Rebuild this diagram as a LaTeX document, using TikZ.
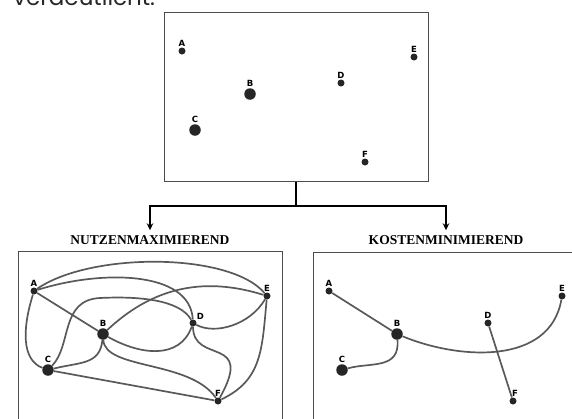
\documentclass[tikz,border=0pt]{standalone}
\usepackage{fontspec}
\setmainfont{Liberation Serif}
\newfontfamily\ortfont{DejaVu Sans}
\newfontfamily\kopffont{Poppins}
\usepackage{tikz}
\usetikzlibrary{arrows.meta,positioning}

\tikzset{
  ort/.style={circle, fill=black!85, inner sep=0pt, minimum size=7pt, label distance=1.5pt},
  zentrum/.style={ort, minimum size=11.5pt},
  weg/.style={draw=black!65, line width=1.7pt},
  feld/.style={draw=black!70, line width=1pt},
  pfeil/.style={draw=black, line width=1.2pt},
  titel/.style={font=\bfseries\fontsize{13.5}{14}\selectfont, inner sep=2pt},
  every label/.style={font=\ortfont\bfseries\fontsize{8.5}{9}\selectfont, inner sep=1pt}
}

\begin{document}
\begin{tikzpicture}[x=1pt, y=-1pt]
  \clip (0,0) rectangle (572,418);
  \node [anchor=base west, inner sep=0pt, text=black!85, font=\kopffont\fontsize{23}{24}\selectfont] (kopf) at (13,5) {verdeutlicht:};

  % Ausgangslage
  \node [feld, minimum width=264pt, minimum height=169pt, inner sep=0pt] (lage) at (296,96.5) {};
  \node [ort, label=above:A] (tA) at (182,51) {};
  \node [zentrum, label=above:B] (tB) at (250,94) {};
  \node [zentrum, label=above:C] (tC) at (195,130) {};
  \node [ort, label=above:D] (tD) at (341,83) {};
  \node [ort, label=above:E] (tE) at (414,57) {};
  \node [ort, label=above:F] (tF) at (365,162) {};

  % Verzweigung
  \coordinate (gabel) at (296,206);
  \node [titel] (nutzen) at (150,240) {NUTZENMAXIMIEREND};
  \node [titel] (kosten) at (446,240) {KOSTENMINIMIEREND};
  \draw [pfeil] (lage.south) -- (gabel);
  \draw [pfeil, -{Stealth[length=7pt,width=6.5pt]}, shorten >=3pt] (gabel) -| (nutzen);
  \draw [pfeil, -{Stealth[length=7pt,width=6.5pt]}, shorten >=3pt] (gabel) -| (kosten);

  % nutzenmaximierend
  \draw [feld] (18,251) rectangle (282,430);
  \node [ort, label=above:A] (lA) at (34,291) {};
  \node [zentrum, label=above:B] (lB) at (103,334) {};
  \node [zentrum, label=above:C] (lC) at (48,370) {};
  \node [ort, label=above right:D] (lD) at (193,323) {};
  \node [ort, label=above:E] (lE) at (267,296) {};
  \node [ort, label=above:F] (lF) at (218,401) {};
  \draw [weg] (lA) .. controls (90,252) and (230,252) .. (lE);
  \draw [weg] (lA) .. controls (100,270) and (190,270) .. (lD);
  \draw [weg] (lA) -- (lB);
  \draw [weg] (lA) .. controls (22,330) and (22,360) .. (lC);
  \draw [weg] (lC) .. controls (72,345) and (60,300) .. (100,298) .. controls (140,296) and (180,300) .. (lD);
  \draw [weg] (lB) .. controls (150,290) and (200,275) .. (lE);
  \draw [weg] (lD) .. controls (215,335) and (250,325) .. (lE);
  \draw [weg] (lB) .. controls (140,355) and (180,360) .. (lD);
  \draw [weg] (lB) .. controls (100,365) and (80,362) .. (lC);
  \draw [weg] (lB) .. controls (105,370) and (190,360) .. (lF);
  \draw [weg] (lC) -- (lF);
  \draw [weg] (lD) .. controls (193,365) and (255,335) .. (lF);
  \draw [weg] (lE) .. controls (262,350) and (262,380) .. (lF);

  % kostenminimierend
  \draw [feld] (313,252) rectangle (580,430);
  \node [ort, label=above:A] (rA) at (329,291) {};
  \node [zentrum, label=above:B] (rB) at (397,334) {};
  \node [zentrum, label=above:C] (rC) at (342,370) {};
  \node [ort, label=above:D] (rD) at (488,323) {};
  \node [ort, label=above:E] (rE) at (562,296) {};
  \node [ort, label={[xshift=2pt]above:F}] (rF) at (513,401) {};
  \draw [weg] (rA) -- (rB);
  \draw [weg] (rB) .. controls (400,370) and (370,362) .. (rC);
  \draw [weg] (rB) .. controls (460,360) and (550,365) .. (rE);
  \draw [weg] (rD) -- (rF);
\end{tikzpicture}
\end{document}
